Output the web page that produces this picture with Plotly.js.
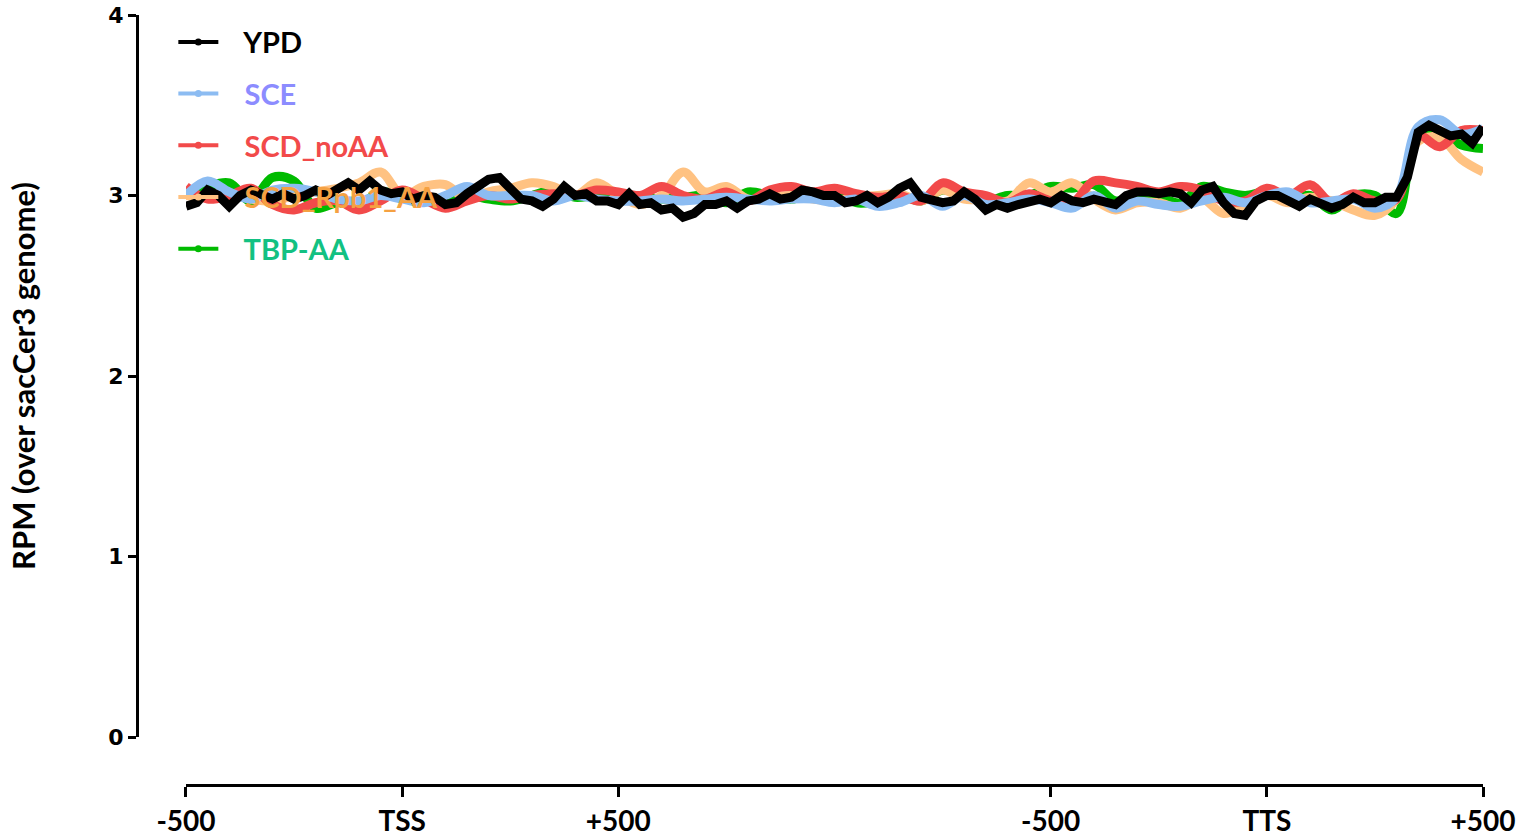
<!DOCTYPE html>
<html>
<head>
<meta charset="utf-8">
<script src="https://cdn.plot.ly/plotly-3.0.1.min.js"></script>
<style>
html,body{margin:0;padding:0;background:#fff;}
#chart{width:1522px;height:837px;}
</style>
</head>
<body>
<div id="chart"></div>
<script>
// Tick labels of the metagene axis (bin positions 0..60; TSS=10, TTS=50)
const tickPositions = [0, 10, 20, 40, 50, 60];
const tickLabels = ['-500', 'TSS', '+500', '-500', 'TTS', '+500'];

// YPD (fine bins, step 0.5)
const ypd = [2.94,2.96,3.03,3.00,2.94,3.00,3.03,3.00,2.98,3.01,2.98,3.00,3.03,3.00,3.04,3.07,3.03,3.08,3.03,3.01,
3.02,2.98,3.00,2.99,2.95,2.96,3.01,3.05,3.09,3.10,3.04,2.98,2.97,2.94,2.98,3.05,3.00,3.01,2.97,2.97,
2.95,3.01,2.95,2.96,2.92,2.93,2.88,2.90,2.95,2.95,2.97,2.93,2.97,2.98,3.01,2.98,2.99,3.03,3.02,3.00,
3.00,2.96,2.97,3.00,2.96,2.99,3.04,3.07,2.99,2.97,2.96,2.97,3.02,2.98,2.92,2.95,2.93,2.95,2.97,2.98,
2.96,3.00,2.97,2.96,2.98,2.97,2.95,3.00,3.02,3.02,3.01,3.02,3.01,2.96,3.03,3.05,2.96,2.90,2.89,2.97,
3.00,3.00,2.97,2.94,2.98,2.96,2.93,2.95,2.99,2.96,2.96,2.99,2.99,3.10,3.35,3.39,3.36,3.33,3.34,3.29,3.38];

// Other samples (bins, step 1)
const sce = [3.00,3.08,3.02,2.98,3.03,3.04,3.02,2.98,2.97,3.00,2.98,2.96,3.00,3.05,3.00,3.00,3.00,2.97,3.00,2.98,
2.97,2.97,2.98,2.97,2.98,2.99,2.98,2.97,2.98,2.98,2.96,2.98,2.94,2.96,3.00,2.94,3.00,2.95,2.96,2.98,
2.96,2.93,3.00,2.93,2.97,2.95,2.94,2.97,2.99,2.96,3.00,3.02,2.96,2.97,2.98,2.93,2.99,3.38,3.42,3.34,3.37];

const scdNoAA = [3.05,2.98,3.00,3.04,2.95,2.92,2.96,2.97,2.92,2.97,3.03,2.98,2.93,2.97,3.00,2.98,3.00,3.01,3.00,3.03,
3.02,3.00,3.05,3.00,2.98,3.02,2.97,3.03,3.05,3.02,3.04,3.01,2.99,3.00,2.97,3.07,3.02,3.00,2.96,3.01,
2.97,2.96,3.08,3.07,3.05,3.02,3.05,3.03,2.97,2.97,3.04,3.00,3.06,2.96,3.01,2.97,2.98,3.33,3.27,3.36,3.36];

const scdRpb1AA = [3.00,2.99,3.01,2.98,2.97,3.00,3.02,3.04,3.07,3.13,3.00,3.05,3.06,2.98,3.02,3.04,3.07,3.05,3.00,3.07,
3.00,2.95,3.00,3.13,3.02,3.05,2.98,2.99,3.00,2.98,2.97,2.99,3.00,3.01,2.97,3.03,2.98,2.98,2.97,3.07,
3.02,3.07,2.98,2.92,2.96,2.96,2.93,2.98,2.90,2.95,3.00,2.96,2.99,2.97,2.92,2.89,2.98,3.30,3.32,3.20,3.13];

const tbpAA = [3.00,3.05,3.07,2.97,3.10,3.08,2.93,2.96,2.95,3.02,3.00,2.98,2.96,3.00,2.98,2.97,3.00,3.03,2.99,3.00,
2.98,2.99,2.98,2.99,3.00,2.96,3.02,3.00,2.98,3.01,3.03,2.96,2.97,3.00,2.97,3.03,3.00,2.97,3.00,3.00,
3.05,3.04,3.06,2.97,3.00,2.99,2.96,3.05,3.02,3.00,3.02,2.98,3.00,2.92,3.00,3.00,2.90,3.35,3.35,3.28,3.26];

const seriesNames = ['YPD', 'SCE', 'SCD_noAA', 'SCD_Rpb1_AA', 'TBP-AA'];
const lineColors = ['#000000', '#8cbcf2', '#f24a4a', '#ffc282', '#00bb00'];
const textColors = ['#000000', '#8c8cff', '#f24a4a', '#f5a142', '#12c182'];

const fineBins = ypd.map((_, i) => i * 0.5);
const coarseBins = sce.map((_, i) => i);

const traces = [];
// data lines (drawing order: green, orange, red, blue, black on top)
const dataSets = [
  {y: tbpAA, k: 4, x: coarseBins},
  {y: scdRpb1AA, k: 3, x: coarseBins},
  {y: scdNoAA, k: 2, x: coarseBins},
  {y: sce, k: 1, x: coarseBins},
  {y: ypd, k: 0, x: fineBins}
];
dataSets.forEach(d => {
  traces.push({
    x: d.x, y: d.y, type: 'scatter', mode: 'lines',
    line: {color: lineColors[d.k], width: d.k === 0 ? 9 : 9, shape: d.k === 0 ? 'linear' : 'spline', smoothing: 1},
    showlegend: false, hoverinfo: 'skip'
  });
});
// legend entries
seriesNames.forEach((n, k) => {
  traces.push({
    x: [null], y: [null], type: 'scatter', mode: 'lines+markers',
    name: '&nbsp;&nbsp;&nbsp;<span style="color:' + textColors[k] + '">' + n + '</span>',
    legendgroup: 'g' + k,
    line: {color: lineColors[k], width: 4},
    marker: {color: lineColors[k], size: 7},
    showlegend: true
  });
});

const layout = {
  width: 1522, height: 837,
  margin: {l: 137, r: 39, t: 15, b: 52},
  paper_bgcolor: '#ffffff', plot_bgcolor: '#ffffff',
  showlegend: true,
  legend: {
    x: 0.027, y: 0.998, xanchor: 'left', yanchor: 'top',
    bgcolor: 'rgba(0,0,0,0)', traceorder: 'grouped', tracegroupgap: 11,
    font: {family: 'Lato, "Open Sans", sans-serif', size: 29, color: '#000', weight: 'bold'},
    itemwidth: 40
  },
  xaxis: {
    domain: [0.0364, 1], range: [0, 60], anchor: 'free', position: 0,
    tickmode: 'array', tickvals: tickPositions, ticktext: tickLabels,
    showline: true, linecolor: '#000', linewidth: 3,
    ticks: 'outside', ticklen: 10, tickwidth: 3, tickcolor: '#000',
    showgrid: false, zeroline: false,
    tickfont: {family: 'Lato, "Open Sans", sans-serif', size: 28, color: '#000', weight: 'bold'}
  },
  yaxis: {
    domain: [0.0623, 1], range: [0, 4], anchor: 'free', position: 0,
    tickmode: 'array', tickvals: [0, 1, 2, 3, 4],
    showline: true, linecolor: '#000', linewidth: 3,
    ticks: 'outside', ticklen: 8, tickwidth: 3, tickcolor: '#000',
    showgrid: false, zeroline: false,
    tickfont: {family: '"DejaVu Sans", sans-serif', size: 22, color: '#000', weight: 'bold'},
    title: {text: 'RPM (over sacCer3 genome)', standoff: 62,
      font: {family: 'Lato, "Open Sans", sans-serif', size: 31, color: '#000', weight: 'bold'}}
  }
};

Plotly.newPlot('chart', traces, layout, {displayModeBar: false, staticPlot: true});
</script>
</body>
</html>
